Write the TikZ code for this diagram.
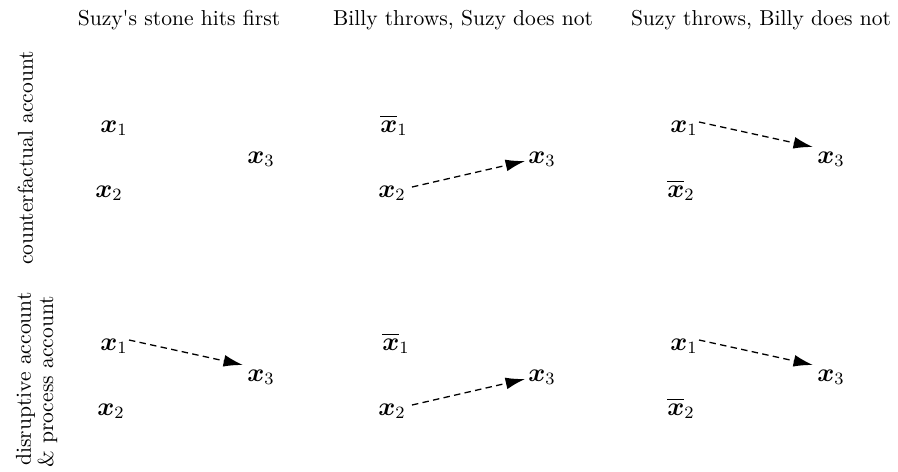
\documentclass[tikz,border=0pt]{standalone}
\usepackage{amsmath,amsbsy}
\usepackage{textcomp}
\usetikzlibrary{arrows.meta}
\begin{document}
\begin{tikzpicture}[x=0.4637pt,y=-0.4637pt,
  var/.style={inner sep=0pt,anchor=base west,font=\fontsize{12}{14}\selectfont},
  head/.style={inner sep=0pt,anchor=base},
  side/.style={inner sep=0pt,anchor=base,rotate=90},
  link/.style={dash pattern=on 3pt off 2pt,line width=0.6pt,-{Latex[length=9pt,width=5.5pt]}}]
\useasboundingbox (0,0) rectangle (898,471);
% headers
\node[head] (h1) at (179,25) {Suzy\textquotesingle s stone hits first};
\node[head] (h2) at (463,25) {Billy throws, Suzy does not};
\node[head] (h3) at (761,25) {Suzy throws, Billy does not};
% side labels
\node[side] (cf) at (33,158) {counterfactual account};
\node[side] (da) at (31,379) {disruptive account};
\node[side] (pa) at (53,382) {\& process account};
% top row
\node[var] (a1) at (100,132) {$\boldsymbol{x}_1$};
\node[var] (a2) at (95,197) {$\boldsymbol{x}_2$};
\node[var] (a3) at (247,163) {$\boldsymbol{x}_3$};
\node[var] (b1) at (380,132) {$\overline{\boldsymbol{x}}_1$};
\node[var] (b2) at (378,197) {$\boldsymbol{x}_2$};
\node[var] (b3) at (528,163) {$\boldsymbol{x}_3$};
\node[var] (c1) at (670,132) {$\boldsymbol{x}_1$};
\node[var] (c2) at (667,197) {$\overline{\boldsymbol{x}}_2$};
\node[var] (c3) at (817,163) {$\boldsymbol{x}_3$};
% bottom row
\node[var] (d1) at (100,350) {$\boldsymbol{x}_1$};
\node[var] (d2) at (97,415) {$\boldsymbol{x}_2$};
\node[var] (d3) at (247,381) {$\boldsymbol{x}_3$};
\node[var] (e1) at (382,350) {$\overline{\boldsymbol{x}}_1$};
\node[var] (e2) at (378,415) {$\boldsymbol{x}_2$};
\node[var] (e3) at (528,381) {$\boldsymbol{x}_3$};
\node[var] (f1) at (670,350) {$\boldsymbol{x}_1$};
\node[var] (f2) at (667,415) {$\overline{\boldsymbol{x}}_2$};
\node[var] (f3) at (817,381) {$\boldsymbol{x}_3$};
% arrows
\draw[link] ([shift={(29,-10)}]c1.base west) -- ([shift={(-4,-16)}]c3.base west);
\draw[link] ([shift={(29,-10)}]d1.base west) -- ([shift={(-4,-16)}]d3.base west);
\draw[link] ([shift={(29,-10)}]f1.base west) -- ([shift={(-4,-16)}]f3.base west);
\draw[link] ([shift={(34,-10)}]b2.base west) -- ([shift={(-3,-2)}]b3.base west);
\draw[link] ([shift={(34,-10)}]e2.base west) -- ([shift={(-3,-2)}]e3.base west);
\end{tikzpicture}
\end{document}
